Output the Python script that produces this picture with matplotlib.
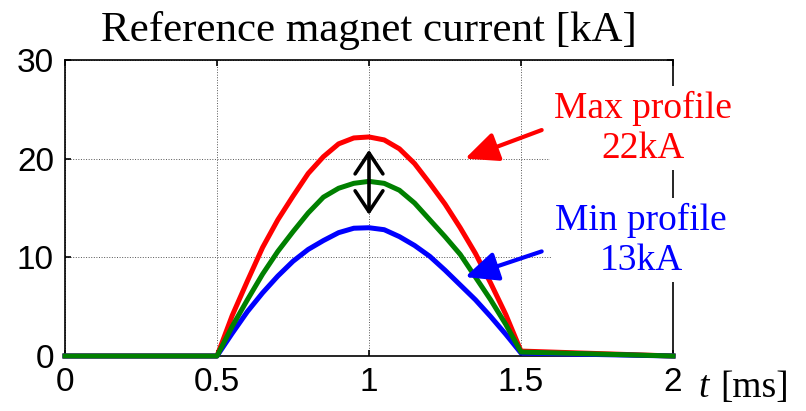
import matplotlib
matplotlib.use("Agg")
import matplotlib.pyplot as plt

# Zeitachse [ms] und Stromprofile [kA]
time_ms = [0.0, 0.5, 0.55, 0.6, 0.65, 0.7, 0.75, 0.8, 0.85, 0.9, 0.95, 1.0,
           1.05, 1.1, 1.15, 1.2, 1.25, 1.3, 1.35, 1.4, 1.45, 1.5, 2.0]
max_profile = [0, 0.0, 4.1, 7.6, 11.0, 13.8, 16.2, 18.5, 20.2, 21.5, 22.1, 22.2,
               21.9, 21.0, 19.5, 17.5, 15.4, 13.0, 10.4, 7.4, 4.2, 0.5, 0.0]
ref_profile = [0, 0.0, 3.0, 5.7, 8.3, 10.6, 12.6, 14.5, 16.1, 17.0, 17.5, 17.7,
               17.5, 16.8, 15.5, 13.8, 12.1, 10.3, 8.0, 5.7, 3.2, 0.4, 0.0]
min_profile = [0, 0.0, 2.3, 4.5, 6.4, 8.1, 9.6, 10.8, 11.7, 12.5, 12.95, 13.0,
               12.8, 12.1, 11.2, 10.1, 8.7, 7.2, 5.7, 4.0, 2.2, 0.3, 0.0]

x_ticks = [0, 0.5, 1, 1.5, 2]
x_labels = ["0", "0.5", "1", "1.5", "2"]
y_ticks = [0, 10, 20, 30]

serif = "Liberation Serif"
sans = "Liberation Sans"

fig = plt.figure(figsize=(8.06, 4.11), dpi=100)
ax = fig.add_axes([65 / 806, 1 - 356 / 411, 608 / 806, 296 / 411])

# Kurven
ax.plot(time_ms, max_profile, color="#ff0000", lw=3.6, clip_on=False, zorder=3)
ax.plot(time_ms, min_profile, color="#0000ff", lw=3.6, clip_on=False, zorder=3)
ax.plot(time_ms, ref_profile, color="#008000", lw=3.6, clip_on=False, zorder=3)

ax.set_xlim(0, 2)
ax.set_ylim(0, 30)
ax.set_xticks(x_ticks)
ax.set_xticklabels(x_labels)
ax.set_yticks(y_ticks)
ax.grid(True, color="#555555", linestyle=":", linewidth=0.7)
ax.tick_params(direction="in", top=True, right=True, length=4, width=1.2,
               labelsize=24, pad=8)
for lab in ax.get_xticklabels() + ax.get_yticklabels():
    lab.set_fontfamily(sans)
for sp in ax.spines.values():
    sp.set_linewidth(1.2)

ax.set_title("Reference magnet current [kA]", fontfamily=serif, fontsize=31, pad=14)

# Pfeile
ax.annotate("", xy=(1.0, 20.9), xytext=(1.0, 14.3),
            arrowprops=dict(arrowstyle="<->,head_length=0.75,head_width=0.5",
                            mutation_scale=20, lw=2.6, color="black",
                            shrinkA=0, shrinkB=0), zorder=4)
ax.annotate("", xy=(1.316, 20.0), xytext=(1.568, 22.9),
            arrowprops=dict(arrowstyle="-|>,head_length=1.0,head_width=0.45",
                            mutation_scale=20, lw=3, color="#ff0000",
                            shrinkA=0, shrinkB=0), zorder=4)
ax.annotate("", xy=(1.316, 8.0), xytext=(1.568, 10.6),
            arrowprops=dict(arrowstyle="-|>,head_length=1.0,head_width=0.45",
                            mutation_scale=20, lw=3, color="#0000ff",
                            shrinkA=0, shrinkB=0), zorder=4)

# Beschriftungen mit weissem Hintergrund
box = dict(facecolor="white", edgecolor="none", pad=3)
ax.text(1.90, 23.1, "Max profile\n22kA", color="#ff0000", fontfamily=serif,
        fontsize=27, ha="center", va="center", multialignment="center",
        bbox=box, zorder=6, clip_on=False)
ax.text(1.895, 11.75, "Min profile\n13kA", color="#0000ff", fontfamily=serif,
        fontsize=27, ha="center", va="center", multialignment="center",
        bbox=box, zorder=6, clip_on=False)

# Achsenbeschriftung rechts neben der "2"
fig.text(698 / 806, 1 - 397 / 411, "t", fontfamily=serif, style="italic",
         fontsize=27, va="baseline")
fig.text(720 / 806, 1 - 397 / 411, "[ms]", fontfamily=serif, fontsize=27,
         va="baseline")

fig.savefig("out.png", dpi=100)
